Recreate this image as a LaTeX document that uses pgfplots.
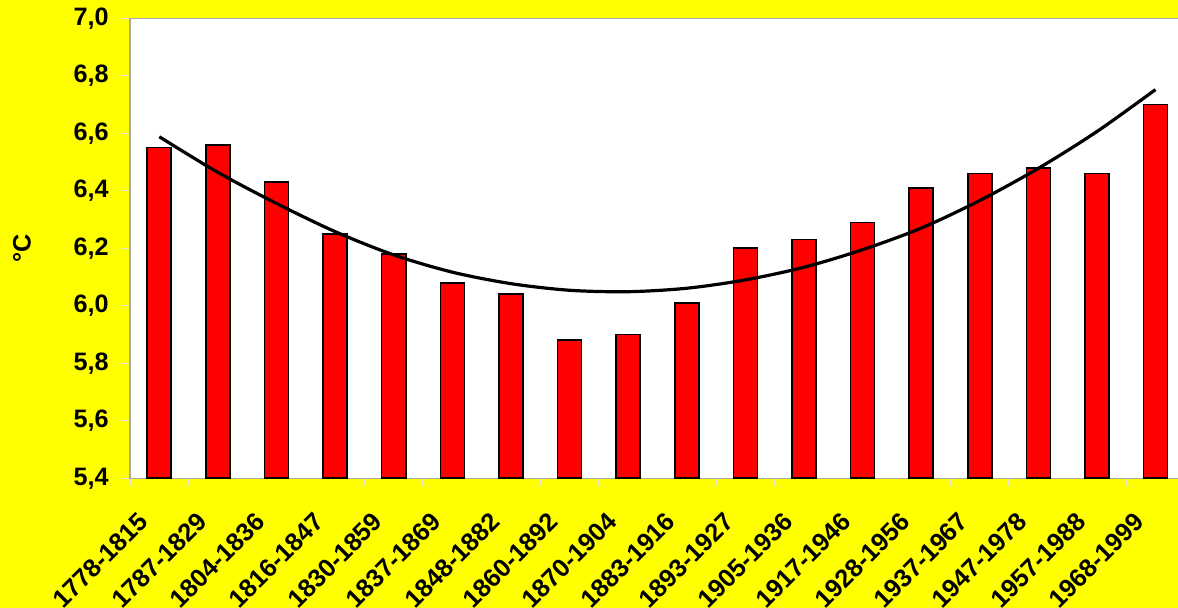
\documentclass[border=0pt]{standalone}
\usepackage{pgfplots}
\pgfplotsset{compat=1.18}
\usepackage{fontspec}
\setmainfont{Liberation Sans}
\definecolor{bgyellow}{RGB}{255,255,0}
\definecolor{barred}{RGB}{255,0,0}
\definecolor{framegray}{RGB}{170,170,170}
\definecolor{tickgray}{RGB}{225,225,225}

\begin{document}
\begin{tikzpicture}
% figure background (picture is 589pt x 304pt, axis box at the origin)
\fill[bgyellow] (-65pt,-64.85pt) rectangle (524pt,239.15pt);
\begin{axis}[
    at={(0,0)}, anchor=south west,
    scale only axis,
    width=527.4pt, height=230pt,
    xmin=0.5, xmax=18.5,
    ymin=5.4, ymax=7.0,
    axis background/.style={fill=white},
    axis line style={draw=framegray, line width=0.6pt},
    tick pos=left,
    tick align=outside,
    major tick length=4pt,
    minor tick length=4pt,
    tick style={draw=tickgray, line width=0.6pt},
    xtick={1,...,18},
    major x tick style={draw=none},
    minor xtick={0.5,1.5,...,18.5},
    xticklabels={1778-1815,1787-1829,1804-1836,1816-1847,1830-1859,1837-1869,
                 1848-1882,1860-1892,1870-1904,1883-1916,1893-1927,1905-1936,
                 1917-1946,1928-1956,1937-1967,1947-1978,1957-1988,1968-1999},
    xticklabel style={xshift=-7.8pt, yshift=-15.5pt, rotate=45, anchor=east, inner sep=0pt,
        font=\fontsize{12.7}{15}\selectfont\bfseries},
    ytick={5.4,5.6,...,7.01},
    yticklabel style={anchor=east, inner sep=0pt, xshift=-6.5pt,
        font=\fontsize{12.6}{14}\selectfont\bfseries,
        /pgf/number format/.cd, fixed, fixed zerofill, precision=1, use comma,
        assume math mode=true},
    ylabel={°C},
    every axis y label/.style={at={(axis description cs:-0.1024,0.5)}, anchor=center,
        rotate=90, font=\fontsize{12.6}{14}\selectfont\bfseries},
]
\addplot[ybar, bar width=12pt, fill=barred, draw=black, line width=0.8pt]
    coordinates {
    (1,6.55) (2,6.56) (3,6.43) (4,6.25) (5,6.18) (6,6.08)
    (7,6.04) (8,5.88) (9,5.90) (10,6.01) (11,6.20) (12,6.23)
    (13,6.29) (14,6.41) (15,6.46) (16,6.48) (17,6.46) (18,6.70)
    };
% trend line
\addplot[smooth, black, line width=1.6pt, mark=none]
    coordinates {
    (1,6.588) (2,6.464) (3,6.356) (4,6.258) (5,6.177) (6,6.117)
    (7,6.077) (8,6.054) (9,6.049) (10,6.061) (11,6.090) (12,6.134)
    (13,6.195) (14,6.270) (15,6.366) (16,6.478) (17,6.606) (18,6.752)
    };
\end{axis}
\pgfresetboundingbox
\path (-65pt,-64.85pt) rectangle (524pt,239.15pt);
\end{tikzpicture}
\end{document}
